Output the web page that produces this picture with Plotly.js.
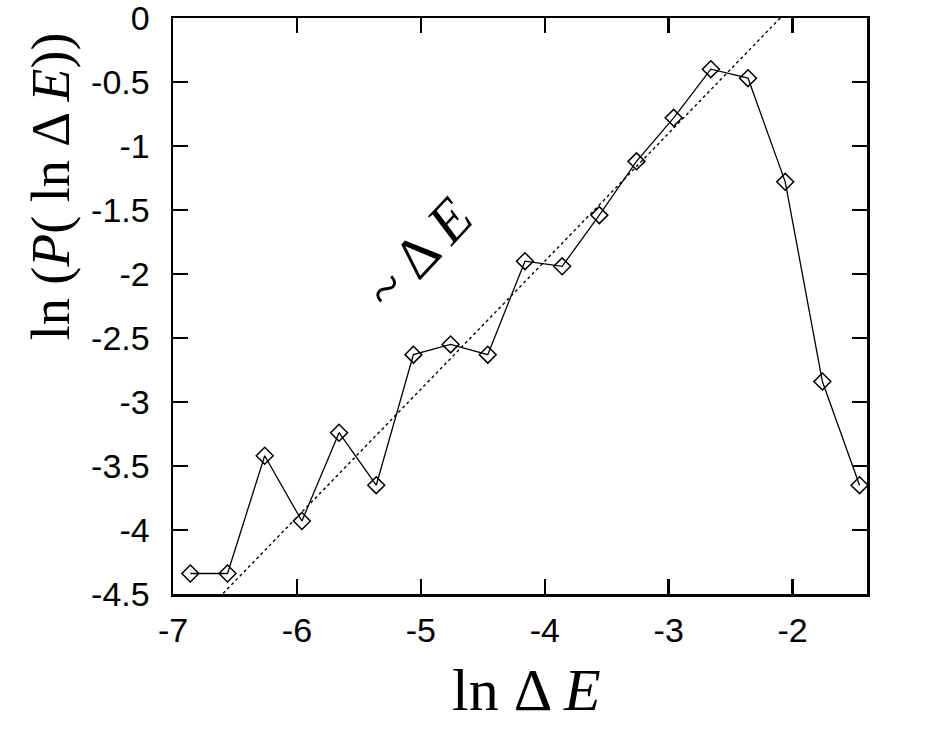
<!DOCTYPE html>
<html>
<head>
<meta charset="utf-8">
<script src="https://cdn.plot.ly/plotly-3.0.1.min.js"></script>
<style>html,body{margin:0;padding:0;background:#fff;}#chart{width:926px;height:730px;}</style>
</head>
<body>
<div id="chart"></div>
<script>
// data
const lnDeltaE = [-6.86, -6.56, -6.26, -5.96, -5.66, -5.36, -5.06, -4.76, -4.46, -4.16, -3.86, -3.56, -3.26, -2.96, -2.66, -2.36, -2.06, -1.76, -1.46];
const lnP = [-4.34, -4.34, -3.42, -3.93, -3.24, -3.65, -2.63, -2.55, -2.63, -1.90, -1.94, -1.54, -1.12, -0.78, -0.40, -0.47, -1.28, -2.84, -3.65];
// reference line ~ ΔE (slope 1)
const fitX = [-7.0, -1.4];
const fitY = [-4.9, 0.7];
const xTicks = [-7, -6, -5, -4, -3, -2];
const yTicks = [0, -0.5, -1, -1.5, -2, -2.5, -3, -3.5, -4, -4.5];

const serif = 'Liberation Serif, Times New Roman, serif';

const traces = [
  {x: fitX, y: fitY, mode: 'lines', line: {color: '#000', width: 1.4, dash: 'dot'}, hoverinfo: 'skip'},
  {x: lnDeltaE, y: lnP, mode: 'lines+markers', line: {color: '#000', width: 1.3},
   marker: {symbol: 'diamond-open', size: 13, color: '#000', line: {width: 1.5, color: '#000'}}, cliponaxis: false}
];

const axisCommon = {
  showgrid: false, zeroline: false, showline: true, linecolor: '#000', linewidth: 2.5,
  mirror: 'allticks', ticks: 'inside', ticklen: 15, tickwidth: 2.5, tickcolor: '#000',
  ticklabeloverflow: 'allow',
  tickfont: {family: 'Liberation Sans, Arial, sans-serif', size: 34, color: '#000'}
};

const layout = {
  width: 926, height: 730,
  margin: {l: 173, r: 59, t: 18, b: 136},
  paper_bgcolor: '#fff', plot_bgcolor: '#fff',
  showlegend: false,
  xaxis: Object.assign({}, axisCommon, {
    range: [-7, -1.4], tickvals: xTicks, ticktext: xTicks.map(String), ticklabelstandoff: 5
  }),
  yaxis: Object.assign({}, axisCommon, {
    range: [-4.5, 0], tickvals: yTicks, ticktext: yTicks.map(String), ticklabelstandoff: 14
  }),
  annotations: [
    {
      x: -5.02, y: -1.84, xref: 'x', yref: 'y', showarrow: false,
      text: '~ Δ <i>E</i>', textangle: -47,
      font: {family: serif, size: 58, color: '#000'}
    },
    {
      x: 0.509, y: -0.167, xref: 'paper', yref: 'paper', showarrow: false,
      xanchor: 'center', yanchor: 'middle',
      text: 'ln Δ <i>E</i>', font: {family: serif, size: 60, color: '#000'}
    },
    {
      x: -0.1758, y: 0.708, xref: 'paper', yref: 'paper', showarrow: false,
      xanchor: 'center', yanchor: 'middle', textangle: -90,
      text: 'ln (<i>P</i>( ln Δ <i>E</i>))', font: {family: serif, size: 54, color: '#000'}
    }
  ]
};

Plotly.newPlot('chart', traces, layout, {displayModeBar: false, staticPlot: true});
</script>
</body>
</html>
